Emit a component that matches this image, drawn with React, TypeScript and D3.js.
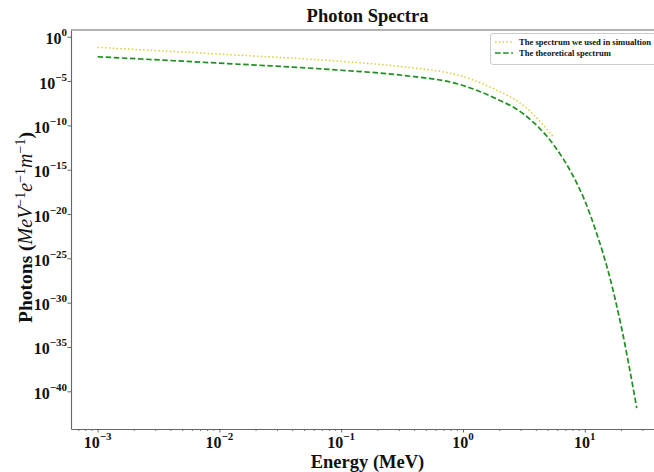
import React, { useEffect, useRef } from 'react'
import * as d3 from 'd3'

const W = 654
const H = 472
const plot = { left: 71, top: 30, right: 664, bottom: 429 }

// spectrum used in the simulation (yellow, dotted)
const simEnergy = [0.001, 0.01, 0.1, 0.316, 1, 1.78, 3.16, 5.46]
const simPhotons = [6.3e-2, 1.1e-2, 1.66e-3, 4.2e-4, 3.2e-5, 1.4e-6, 1.6e-8, 6.3e-12]

// theoretical spectrum (green, dashed)
const theoEnergy = [0.001, 0.01, 0.1, 0.316, 1, 1.78, 3.16, 5.62, 7.94, 10, 12.6, 15.8, 20.0, 26.7]
const theoPhotons = [5.5e-3, 1.05e-3, 1.66e-4, 4.5e-5, 3.2e-6, 1.4e-7, 1.8e-9, 5.0e-13, 2.5e-16, 3.2e-19, 5.0e-23, 1.6e-27, 1.6e-33, 1.3e-42]

const xTicks = [1e-3, 1e-2, 1e-1, 1, 10]
const xTickExp = ['−3', '−2', '−1', '0', '1']
const yTicks = [1, 1e-5, 1e-10, 1e-15, 1e-20, 1e-25, 1e-30, 1e-35, 1e-40]
const yTickExp = ['0', '−5', '−10', '−15', '−20', '−25', '−30', '−35', '−40']

const xDomain = [6.05e-4, 44.7]
const yDomain = [5.62e-45, 5.75]

const legendLabels = ['The spectrum we used in simualtion', 'The theoretical spectrum']

const FONT = '"Liberation Serif", "Times New Roman", serif'
const YELLOW = '#d6cf3a'
const GREEN = '#1f8f1f'

export default function App() {
  const ref = useRef<SVGSVGElement>(null)

  useEffect(() => {
    const svg = d3.select(ref.current)
    svg.selectAll('*').remove()

    const x = d3.scaleLog().domain(xDomain).range([plot.left, plot.right])
    const y = d3.scaleLog().domain(yDomain).range([plot.bottom, plot.top])

    const line = d3.line<[number, number]>()
      .x(d => x(d[0]))
      .y(d => y(d[1]))
      .curve(d3.curveMonotoneX)

    const sim = simEnergy.map((e, i) => [e, simPhotons[i]] as [number, number])
    const theo = theoEnergy.map((e, i) => [e, theoPhotons[i]] as [number, number])

    svg.append('rect').attr('width', W).attr('height', H).attr('fill', 'white')

    // top of the frame
    svg.append('line')
      .attr('x1', plot.left).attr('x2', plot.right)
      .attr('y1', plot.top).attr('y2', plot.top)
      .attr('stroke', '#666').attr('stroke-width', 1.1)

    // minor x ticks
    const minor: number[] = []
    for (let k = -4; k <= 1; k++) {
      for (let m = 2; m <= 9; m++) {
        const v = m * Math.pow(10, k)
        if (v > xDomain[0] && v < xDomain[1]) minor.push(v)
      }
    }
    svg.append('g')
      .selectAll('line')
      .data(minor)
      .enter()
      .append('line')
      .attr('x1', d => x(d)).attr('x2', d => x(d))
      .attr('y1', plot.bottom).attr('y2', plot.bottom + 2)
      .attr('stroke', '#555').attr('stroke-width', 0.8)

    const xAxis = svg.append('g')
      .attr('transform', `translate(0, ${plot.bottom})`)
      .call(d3.axisBottom(x).tickValues(xTicks).tickSize(3.5).tickSizeOuter(0).tickFormat(() => ''))
    const yAxis = svg.append('g')
      .attr('transform', `translate(${plot.left}, 0)`)
      .call(d3.axisLeft(y).tickValues(yTicks).tickSize(3.5).tickSizeOuter(0).tickFormat(() => ''))

    for (const ax of [xAxis, yAxis]) {
      ax.select('.domain').attr('stroke', '#666').attr('stroke-width', 1.1)
      ax.selectAll('.tick line').attr('stroke', '#555').attr('stroke-width', 0.9)
      ax.selectAll('.tick text').remove()
    }

    // x tick labels 10^k
    xTicks.forEach((v, i) => {
      const t = svg.append('text')
        .attr('x', x(v)).attr('y', 448)
        .attr('text-anchor', 'middle')
        .attr('font-family', FONT).attr('font-weight', 'bold').attr('font-size', 16)
        .attr('fill', '#111')
      t.append('tspan').text('10')
      t.append('tspan').attr('dy', -8).attr('font-size', 11).text(xTickExp[i])
    })

    // y tick labels 10^k
    yTicks.forEach((v, i) => {
      const t = svg.append('text')
        .attr('x', plot.left - 4).attr('y', y(v) + 7.5)
        .attr('text-anchor', 'end')
        .attr('font-family', FONT).attr('font-weight', 'bold').attr('font-size', 16)
        .attr('fill', '#111')
      t.append('tspan').text('10')
      t.append('tspan').attr('dy', -8).attr('font-size', 11).text(yTickExp[i])
    })

    // curves
    svg.append('path')
      .datum(theo)
      .attr('d', line)
      .attr('fill', 'none')
      .attr('stroke', GREEN)
      .attr('stroke-width', 1.7)
      .attr('stroke-dasharray', '5.5,2.6')

    svg.append('path')
      .datum(sim)
      .attr('d', line)
      .attr('fill', 'none')
      .attr('stroke', YELLOW)
      .attr('stroke-width', 1.5)
      .attr('stroke-dasharray', '1.5,2.3')

    // title and axis labels
    svg.append('text')
      .attr('x', (plot.left + plot.right) / 2).attr('y', 22)
      .attr('text-anchor', 'middle')
      .attr('font-family', FONT).attr('font-weight', 'bold').attr('font-size', 18.5)
      .attr('fill', '#111')
      .text('Photon Spectra')

    svg.append('text')
      .attr('x', (plot.left + plot.right) / 2).attr('y', 468)
      .attr('text-anchor', 'middle')
      .attr('font-family', FONT).attr('font-weight', 'bold').attr('font-size', 18.5)
      .attr('fill', '#111')
      .text('Energy (MeV)')

    const yl = svg.append('text')
      .attr('transform', `translate(32, ${(plot.top + plot.bottom) / 2 - 2}) rotate(-90)`)
      .attr('text-anchor', 'middle')
      .attr('font-family', FONT).attr('font-size', 19.5)
      .attr('fill', '#111')
    yl.append('tspan').attr('font-weight', 'bold').text('Photons (')
    const parts = ['MeV', 'e', 'm']
    parts.forEach(p => {
      yl.append('tspan').attr('font-style', 'italic').attr('font-size', 20).attr('dy', p === 'MeV' ? 0 : 7.5).text(p)
      yl.append('tspan').attr('font-size', 14).attr('dy', -7.5).text('−1')
    })
    yl.append('tspan').attr('font-weight', 'bold').attr('dy', 7.5).text(')')

    // legend
    const lg = svg.append('g')
    lg.append('rect')
      .attr('x', 490.5).attr('y', 33.5).attr('width', 180).attr('height', 31)
      .attr('rx', 2.5)
      .attr('fill', 'white').attr('fill-opacity', 0.8)
      .attr('stroke', '#cccccc').attr('stroke-width', 1)
    const styles = [
      { stroke: YELLOW, dash: '1.5,2.3', w: 1.5 },
      { stroke: GREEN, dash: '5.5,2.6', w: 1.7 },
    ]
    legendLabels.forEach((label, i) => {
      const ly = 42 + i * 11
      lg.append('line')
        .attr('x1', 495).attr('x2', 513).attr('y1', ly).attr('y2', ly)
        .attr('stroke', styles[i].stroke).attr('stroke-width', styles[i].w)
        .attr('stroke-dasharray', styles[i].dash)
      lg.append('text')
        .attr('x', 519).attr('y', ly + 3)
        .attr('font-family', FONT).attr('font-weight', 'bold').attr('font-size', 8.6)
        .attr('fill', '#111')
        .text(label)
    })
  }, [])

  return (
    <svg ref={ref} width={W} height={H} style={{ position: 'absolute', left: 0, top: 0 }} />
  )
}
